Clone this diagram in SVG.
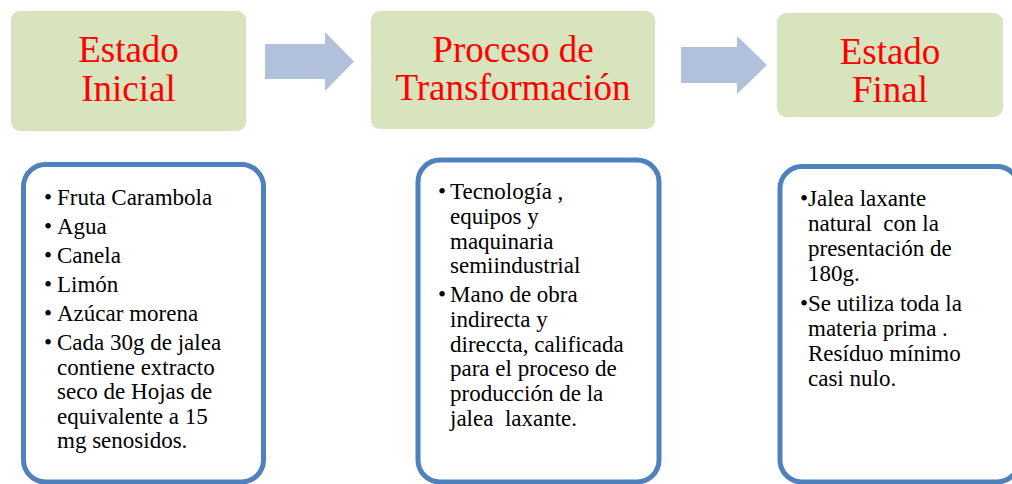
<svg xmlns="http://www.w3.org/2000/svg" width="1012" height="484" viewBox="0 0 1012 484">
<style>
.hdr{fill:#D7E4BD;}
.ttl{font-family:'Liberation Serif',Tinos,'Times New Roman',Times,serif;font-size:37px;fill:#FF0000;text-anchor:middle;}
.box{fill:#FFFFFF;stroke:#4F81BD;stroke-width:5;}
.body{font-family:'Liberation Serif',Tinos,'Times New Roman',Times,serif;font-size:23px;fill:#000000;white-space:pre;}
.arrow{fill:#B1C1DC;}
</style>
<rect width="1012" height="484" fill="#FFFFFF"/>
<g id="connectors">
<polygon class="arrow" points="265,44 325,44 325,32 354,61.5 325,91 325,79 265,79"/>
<polygon class="arrow" points="681,47 737,47 737,36 767,65 737,94 737,83 681,83"/>
</g>
<g id="estado-inicial">
<rect class="hdr" x="11" y="11" width="235" height="120" rx="9"/>
<text class="ttl" x="128.5" y="62">Estado</text>
<text class="ttl" x="128.5" y="101">Inicial</text>
</g>
<g id="proceso-transformacion">
<rect class="hdr" x="371" y="11" width="284" height="118" rx="9"/>
<text class="ttl" x="513" y="62">Proceso de</text>
<text class="ttl" x="513" y="100">Transformación</text>
</g>
<g id="estado-final">
<rect class="hdr" x="777" y="13" width="226" height="104" rx="9"/>
<text class="ttl" x="890" y="64">Estado</text>
<text class="ttl" x="890" y="102">Final</text>
</g>
<g id="detalle-inicial">
<rect class="box" x="23.5" y="164.5" width="240" height="317.5" rx="22"/>
<text class="body" x="44" y="205">•</text><text class="body" x="57" y="205">Fruta Carambola</text>
<text class="body" x="44" y="234">•</text><text class="body" x="57" y="234">Agua</text>
<text class="body" x="44" y="263">•</text><text class="body" x="57" y="263">Canela</text>
<text class="body" x="44" y="292">•</text><text class="body" x="57" y="292">Limón</text>
<text class="body" x="44" y="321">•</text><text class="body" x="57" y="321">Azúcar morena</text>
<text class="body" x="44" y="350">•</text><text class="body" x="57" y="350">Cada 30g de jalea</text>
<text class="body" x="57" y="375">contiene extracto</text>
<text class="body" x="57" y="399">seco de Hojas de</text>
<text class="body" x="57" y="424">equivalente a 15</text>
<text class="body" x="57" y="448">mg senosidos.</text>
</g>
<g id="detalle-proceso">
<rect class="box" x="418" y="160" width="241" height="322" rx="22"/>
<text class="body" x="438" y="199">•</text><text class="body" x="450" y="199">Tecnología ,</text>
<text class="body" x="450" y="224">equipos y</text>
<text class="body" x="450" y="249">maquinaria</text>
<text class="body" x="450" y="273">semiindustrial</text>
<text class="body" x="438" y="302">•</text><text class="body" x="450" y="302">Mano de obra</text>
<text class="body" x="450" y="327">indirecta y</text>
<text class="body" x="450" y="352">direccta, calificada</text>
<text class="body" x="450" y="376">para el proceso de</text>
<text class="body" x="450" y="401">producción de la</text>
<text class="body" x="450" y="426">jalea  laxante.</text>
</g>
<g id="detalle-final">
<rect class="box" x="780" y="166.5" width="239" height="315.5" rx="22"/>
<text class="body" x="800" y="206">•</text><text class="body" x="808" y="206">Jalea laxante</text>
<text class="body" x="808" y="231">natural  con la</text>
<text class="body" x="808" y="256">presentación de</text>
<text class="body" x="808" y="281">180g.</text>
<text class="body" x="800" y="311">•</text><text class="body" x="808" y="311">Se utiliza toda la</text>
<text class="body" x="808" y="336">materia prima .</text>
<text class="body" x="808" y="361">Resíduo mínimo</text>
<text class="body" x="808" y="386">casi nulo.</text>
</g>
</svg>
